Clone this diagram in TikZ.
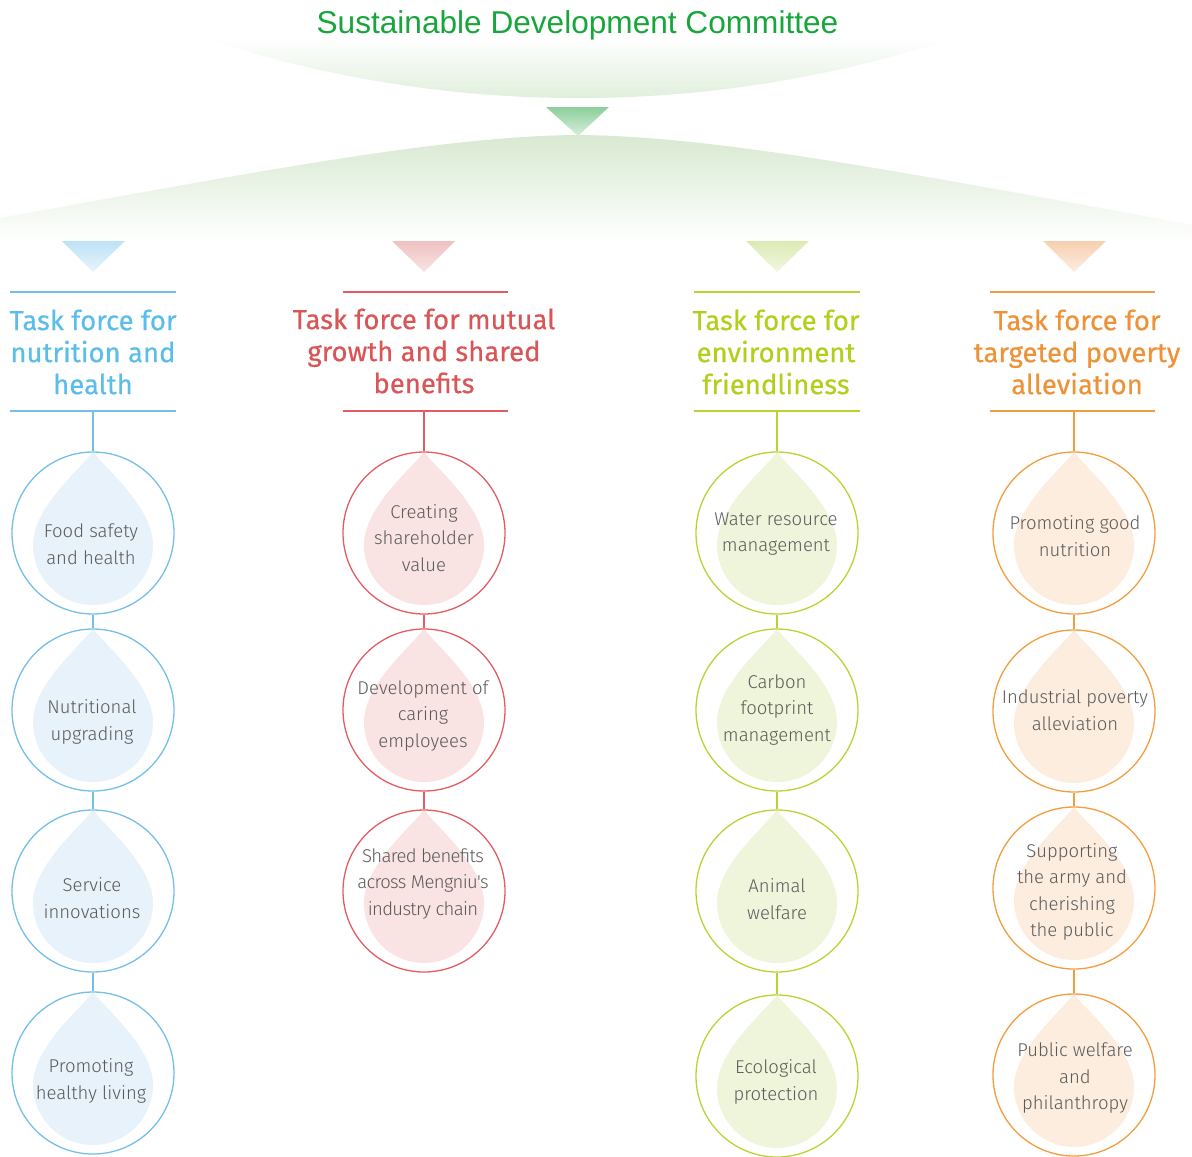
\documentclass[tikz,border=0pt]{standalone}
\usepackage{fontspec}
\setmainfont{Fira Sans}
\newfontfamily\lightfont{Fira Sans Light}
\newfontfamily\hdrfont{Fira Sans}[FakeBold=0.5]
\newfontfamily\titlefont{Liberation Sans}
\usetikzlibrary{calc}
\definecolor{titlegreen}{HTML}{18A53C}
\definecolor{lensgreen}{HTML}{D6EAD1}
\definecolor{bandgreen}{HTML}{D8E9D1}
\definecolor{tgtop}{HTML}{8CCF9C}
\definecolor{tgbot}{HTML}{D8EEDC}
\definecolor{textgray}{HTML}{5A5A5A}
\definecolor{bline}{HTML}{74BFE8}
\definecolor{btext}{HTML}{5BBDEA}
\definecolor{bfill}{HTML}{E7F2FA}
\definecolor{btop}{HTML}{BDE2F6}
\definecolor{bbot}{HTML}{E8F4FB}
\definecolor{rline}{HTML}{E45C62}
\definecolor{rtext}{HTML}{D95556}
\definecolor{rfill}{HTML}{FAE3E3}
\definecolor{rtop}{HTML}{EFC1C2}
\definecolor{rbot}{HTML}{F9E3E3}
\definecolor{gline}{HTML}{B8D432}
\definecolor{gtext}{HTML}{B3CE1B}
\definecolor{gfill}{HTML}{EFF5DB}
\definecolor{gtop}{HTML}{DCEAB3}
\definecolor{gbot}{HTML}{F1F7E2}
\definecolor{oline}{HTML}{F29D3F}
\definecolor{otext}{HTML}{EE9238}
\definecolor{ofill}{HTML}{FCEDDE}
\definecolor{otop}{HTML}{F6D0AF}
\definecolor{obot}{HTML}{FCEDE1}
\tikzset{
  hdr/.style={font=\hdrfont\fontsize{27.5}{32}\selectfont, align=center, text=#1, inner sep=0pt},
  circ/.style={circle, draw=#1, line width=1.3pt, minimum size=162pt, inner sep=0pt},
  ctext/.style={font=\lightfont\fontsize{18.5}{26.5}\selectfont, align=center, text=textgray, inner sep=0pt},
  conn/.style={draw=#1, line width=1.3pt},
  hline/.style={draw=#1, line width=1.5pt},
}
\newcommand\dropat[3]{\begin{scope}[shift={(#1,#2)}]\fill[#3] (0,-81) .. controls (-15,-62) and (-60,-25) .. (-60,12) arc[start angle=180,end angle=0,radius=60] .. controls (60,-25) and (15,-62) .. (0,-81) -- cycle;\end{scope}}
\begin{document}
\begin{tikzpicture}[x=1pt,y=-1pt]
\useasboundingbox (0,0) rectangle (1192,1157);
% top lens
\shade[top color=white, bottom color=lensgreen] (203,38) arc[start angle=108.2, end angle=71.8, radius=1202] -- cycle;
\node[font=\titlefont\fontsize{31.6}{34}\selectfont, text=titlegreen, anchor=base, inner sep=0pt] (title) at (577.5,33.5) {Sustainable Development Committee};
% green triangle
\shade[top color=tgtop, bottom color=tgbot] (546,107) -- (609,107) -- (578,136) -- cycle;
% band
\shade[top color=bandgreen, bottom color=white] (0,218) .. controls (250,173) and (440,136) .. (578,135) .. controls (716,136) and (906,173) .. (1156,218) -- (1192,225) -- (1192,242) -- (0,242) -- cycle;
% colored triangles
\shade[top color=btop, bottom color=bbot] (62,241) -- (125,241) -- (93,272) -- cycle;
\shade[top color=rtop, bottom color=rbot] (392,241) -- (455,241) -- (424,272) -- cycle;
\shade[top color=gtop, bottom color=gbot] (746,241) -- (809,241) -- (777,272) -- cycle;
\shade[top color=otop, bottom color=obot] (1043,241) -- (1106,241) -- (1074,272) -- cycle;
% headers
\node[hdr=btext] (hb) at (93,352) {Task force for\\nutrition and\\health};
\node[hdr=rtext] (hr) at (424,351) {Task force for mutual\\growth and shared\\benefits};
\node[hdr=gtext] (hg) at (776,352) {Task force for\\environment\\friendliness};
\node[hdr=otext] (ho) at (1077,352) {Task force for\\targeted poverty\\alleviation};
\draw[hline=bline] (10,292) -- (176,292) (10,411) -- (176,411);
\draw[hline=rline] (343,292) -- (508,292) (343,411) -- (508,411);
\draw[hline=gline] (694,292) -- (860,292) (694,411) -- (860,411);
\draw[hline=oline] (990,292) -- (1155,292) (990,411) -- (1155,411);
\coordinate (hbB) at (93,411);
\coordinate (hrB) at (424,411);
\coordinate (hgB) at (777,411);
\coordinate (hoB) at (1074,411);
% drops
\dropat{93}{533}{bfill}\dropat{93}{710}{bfill}\dropat{93}{891}{bfill}\dropat{93}{1073}{bfill}
\dropat{424}{533}{rfill}\dropat{424}{710}{rfill}\dropat{424}{891}{rfill}
\dropat{777}{533}{gfill}\dropat{777}{710}{gfill}\dropat{777}{891}{gfill}\dropat{777}{1076}{gfill}
\dropat{1074}{533}{ofill}\dropat{1074}{711}{ofill}\dropat{1074}{888}{ofill}\dropat{1074}{1075}{ofill}
% circles
\node[circ=bline] (b1) at (93,533) {};
\node[circ=bline] (b2) at (93,710) {};
\node[circ=bline] (b3) at (93,891) {};
\node[circ=bline] (b4) at (93,1073) {};
\node[circ=rline] (r1) at (424,533) {};
\node[circ=rline] (r2) at (424,710) {};
\node[circ=rline] (r3) at (424,891) {};
\node[circ=gline] (g1) at (777,533) {};
\node[circ=gline] (g2) at (777,710) {};
\node[circ=gline] (g3) at (777,891) {};
\node[circ=gline] (g4) at (777,1076) {};
\node[circ=oline] (o1) at (1074,533) {};
\node[circ=oline] (o2) at (1074,711) {};
\node[circ=oline] (o3) at (1074,888) {};
\node[circ=oline] (o4) at (1074,1075) {};
% connectors
\draw[conn=bline] (hbB) -- (b1.north) (b1.south) -- (b2.north) (b2.south) -- (b3.north) (b3.south) -- (b4.north);
\draw[conn=rline] (hrB) -- (r1.north) (r1.south) -- (r2.north) (r2.south) -- (r3.north);
\draw[conn=gline] (hgB) -- (g1.north) (g1.south) -- (g2.north) (g2.south) -- (g3.north) (g3.south) -- (g4.north);
\draw[conn=oline] (hoB) -- (o1.north) (o1.south) -- (o2.north) (o2.south) -- (o3.north) (o3.south) -- (o4.north);
% texts
\node[ctext] (tb1) at (91,544) {Food safety\\and health};
\node[ctext] (tb2) at (92,722) {Nutritional\\upgrading};
\node[ctext] (tb3) at (92,898) {Service\\innovations};
\node[ctext] (tb4) at (91,1081) {Promoting\\healthy living};
\node[ctext] (tr1) at (424,538) {Creating\\shareholder\\value};
\node[ctext] (tr2) at (423,716) {Development of\\caring\\employees};
\node[ctext, font=\lightfont\fontsize{18.5}{26.5}\selectfont\addfontfeature{LetterSpace=-3.5}] (tr3) at (423,884) {Shared benefits\\across Mengniu's\\industry chain};
\node[ctext] (tg1) at (776,534) {Water resource\\management};
\node[ctext] (tg2) at (777,710) {Carbon\\footprint\\management};
\node[ctext] (tg3) at (777,899) {Animal\\welfare};
\node[ctext] (tg4) at (776,1082) {Ecological\\protection};
\node[ctext] (to1) at (1075,536) {Promoting good\\nutrition};
\node[ctext] (to2) at (1075,710) {Industrial poverty\\alleviation};
\node[ctext] (to3) at (1072,892) {Supporting\\the army and\\cherishing\\the public};
\node[ctext] (to4) at (1075,1078) {Public welfare\\and\\philanthropy};
\end{tikzpicture}
\end{document}
